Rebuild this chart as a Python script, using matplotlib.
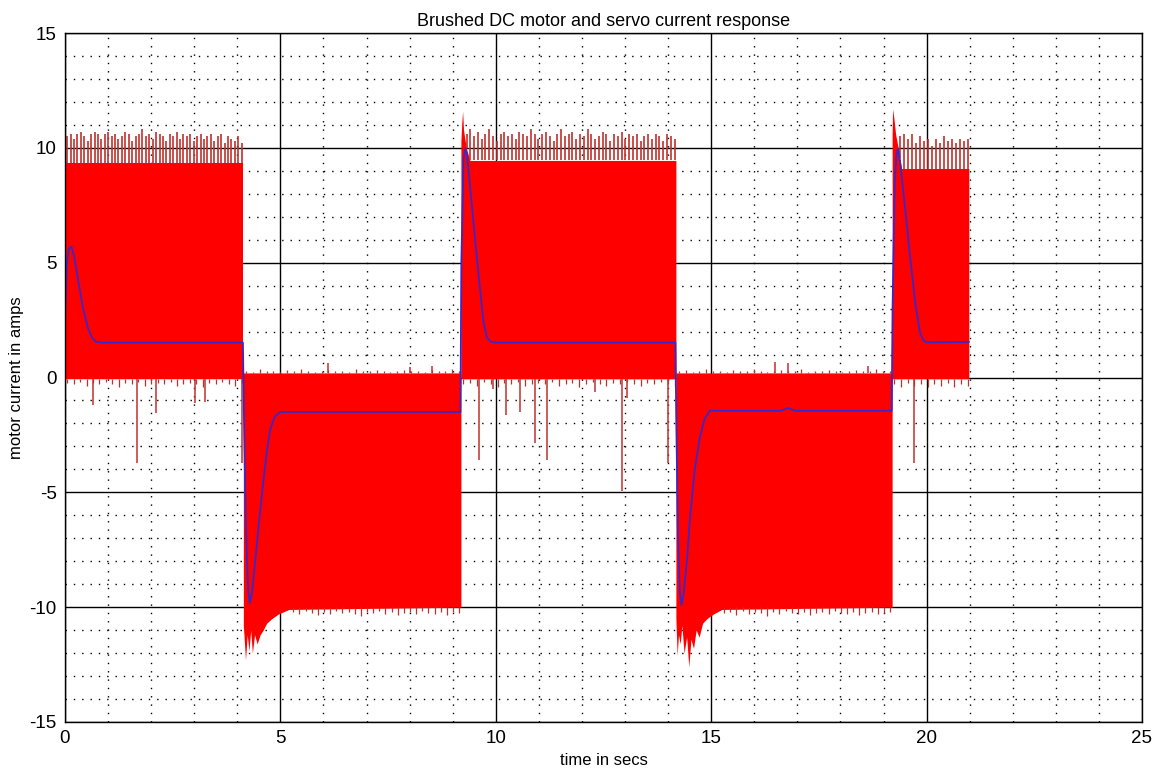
import numpy as np
import matplotlib.pyplot as plt
from matplotlib.ticker import MultipleLocator

plt.rcParams['font.family'] = ['Liberation Sans', 'DejaVu Sans']
plt.rcParams['axes.unicode_minus'] = False

# --- drive intervals: core band of the chopped motor current (amps) ---
seg1_t = [0.0, 4.13]
seg1_lo = [-0.05, -0.05]
seg1_hi = [9.35, 9.35]

seg2_t = [4.14, 4.19, 4.23, 4.27, 4.31, 4.35, 4.40, 4.46, 4.53, 4.60, 4.68, 4.80, 4.95, 5.20, 9.19]
seg2_lo = [-10.8, -12.3, -11.2, -11.9, -11.0, -12.0, -11.2, -11.6, -11.2, -11.0, -10.7, -10.5, -10.3, -10.1, -10.0]
seg2_hi = [0.2, 0.2, 0.2, 0.2, 0.2, 0.2, 0.2, 0.2, 0.2, 0.2, 0.2, 0.2, 0.2, 0.2, 0.2]

seg3_t = [9.19, 9.21, 9.23, 9.25, 9.28, 9.33, 9.40, 14.18]
seg3_lo = [-0.05, -0.05, -0.05, -0.05, -0.05, -0.05, -0.05, -0.05]
seg3_hi = [10.3, 11.1, 11.6, 10.8, 10.4, 9.9, 9.45, 9.45]

seg4_t = [14.18, 14.21, 14.24, 14.28, 14.32, 14.37, 14.43, 14.48, 14.53, 14.59,
          14.65, 14.72, 14.80, 14.90, 15.05, 15.25, 19.20]
seg4_lo = [-10.5, -12.1, -11.2, -11.6, -10.8, -12.0, -11.3, -12.6, -11.4, -11.8,
           -11.0, -11.3, -10.7, -10.5, -10.3, -10.1, -10.0]
seg4_hi = [0.2, 0.2, 0.2, 0.2, 0.2, 0.2, 0.2, 0.2, 0.2, 0.2, 0.2, 0.2, 0.2, 0.2, 0.2, 0.2, 0.2]

seg5_t = [19.20, 19.21, 19.24, 19.28, 19.34, 19.42, 20.98]
seg5_lo = [-0.05, -0.05, -0.05, -0.05, -0.05, -0.05, -0.05]
seg5_hi = [10.5, 11.7, 11.3, 10.6, 10.0, 9.1, 9.1]

# --- ripple peaks on the top edge of the positive intervals ---
ripple1 = [10.5, 10.6, 10.4, 10.6, 10.7, 10.5, 10.3, 10.6, 10.7, 10.6, 10.4, 10.6, 10.7,
           10.5, 10.6, 10.4, 10.5, 10.7, 10.6, 10.3, 10.5, 10.6, 10.8, 10.5, 10.6, 10.4,
           10.7, 10.6, 10.5, 10.3, 10.6, 10.5, 10.7, 10.4, 10.6, 10.5, 10.6, 10.3, 10.5,
           10.6, 10.4, 10.5, 10.6, 10.3, 10.5, 10.6, 10.2, 10.5, 10.4, 10.3, 10.5, 10.2]
ripple3 = [10.6, 10.8, 10.5, 10.7, 10.4, 10.6, 10.8, 10.5, 10.3, 10.6, 10.7, 10.5, 10.6,
           10.4, 10.7, 10.6, 10.5, 10.8, 10.6, 10.4, 10.6, 10.7, 10.5, 10.3, 10.6, 10.8,
           10.5, 10.6, 10.7, 10.4, 10.6, 10.5, 10.8, 10.6, 10.4, 10.5, 10.7, 10.6, 10.3,
           10.6, 10.5, 10.7, 10.4, 10.6, 10.5, 10.6, 10.3, 10.5, 10.6, 10.4, 10.6, 10.5,
           10.3, 10.6, 10.5, 10.4]
ripple5 = [10.5, 10.6, 10.4, 10.6, 10.2, 10.5, 10.3, 10.4, 10.1, 10.4, 10.2, 10.5, 10.3,
           10.4, 10.2, 10.4, 10.3, 10.4]

# small chatter on the near-zero edge of each interval
chatter1 = [-0.25, -0.3, -0.2, -0.35, -0.25, -0.3, -0.2, -0.3, -0.4, -0.25, -0.3, -0.2,
            -0.35, -0.3, -0.25, -0.3, -0.2, -0.35, -0.3, -0.25, -0.3, -0.4, -0.25, -0.3,
            -0.2, -0.3, -0.35, -0.25]
chatter3 = [-0.3, -0.25, -0.35, -0.2, -0.3, -0.4, -0.25, -0.3, -0.2, -0.35, -0.3, -0.25,
            -0.3, -0.2, -0.35, -0.3, -0.25, -0.4, -0.3, -0.2, -0.3, -0.35, -0.25, -0.3,
            -0.2, -0.3, -0.35, -0.25, -0.3, -0.2, -0.3, -0.35]
chatter5 = [-0.3, -0.4, -0.25, -0.35, -0.3, -0.4, -0.3, -0.35, -0.25, -0.4, -0.3, -0.35]
chatter2 = [0.3, 0.25, 0.35, 0.28, 0.3, 0.25, 0.32, 0.28, 0.35, 0.3, 0.26, 0.3, 0.33,
            0.28, 0.3, 0.25, 0.35, 0.3, 0.28, 0.32, 0.3, 0.26, 0.3, 0.34, 0.28, 0.3,
            0.25, 0.32, 0.3, 0.28, 0.35, 0.3]
chatter4 = [0.28, 0.32, 0.25, 0.3, 0.35, 0.28, 0.3, 0.26, 0.33, 0.3, 0.28, 0.35, 0.3,
            0.25, 0.3, 0.32, 0.28, 0.3, 0.35, 0.26, 0.3, 0.28, 0.33, 0.3, 0.25, 0.3,
            0.32, 0.28, 0.3, 0.35, 0.3, 0.28]
floor2 = [-10.2, -10.3, -10.15, -10.25, -10.35, -10.2, -10.3, -10.15, -10.25, -10.2,
          -10.3, -10.4, -10.2, -10.25, -10.15, -10.3, -10.2, -10.35, -10.25, -10.2,
          -10.3, -10.15, -10.25, -10.3, -10.2, -10.35, -10.2, -10.25]
floor4 = [-10.25, -10.2, -10.35, -10.15, -10.3, -10.2, -10.25, -10.4, -10.2, -10.3,
          -10.15, -10.25, -10.3, -10.2, -10.35, -10.25, -10.2, -10.3, -10.15, -10.25,
          -10.3, -10.2, -10.35, -10.25, -10.2, -10.3, -10.25, -10.2]

# isolated long excursions
drop_t = [0.66, 1.66, 2.11, 3.02, 3.25, 4.12, 9.62, 9.94, 10.24, 10.56, 10.91, 11.20,
          12.30, 12.92, 13.04, 13.99, 19.71]
drop_i = [-1.2, -3.73, -1.56, -1.12, -1.05, -3.73, -3.59, -0.5, -1.63, -1.49, -2.86,
          -3.59, -0.65, -4.96, -0.9, -3.73, -3.73]
rise_t = [6.11, 8.01, 8.51, 16.48, 16.79, 18.64]
rise_i = [0.62, 0.45, 0.5, 0.69, 0.62, 0.5]

# --- servo (averaged) current ---
servo_t = [0.0, 0.04, 0.09, 0.15, 0.21, 0.30, 0.42, 0.54, 0.64, 0.72, 0.85, 4.13,
           4.16, 4.20, 4.25, 4.29, 4.34, 4.42, 4.52, 4.60, 4.68, 4.76, 4.87, 5.00, 9.18,
           9.20, 9.25, 9.29, 9.33, 9.42, 9.52, 9.62, 9.71, 9.79, 9.88, 10.00, 14.17,
           14.19, 14.23, 14.27, 14.31, 14.36, 14.44, 14.51, 14.62, 14.74, 14.85, 14.97,
           16.60, 16.79, 16.95, 19.19,
           19.21, 19.26, 19.30, 19.34, 19.39, 19.50, 19.62, 19.74, 19.85, 19.93, 20.00, 20.98]
servo_i = [2.5, 4.9, 5.6, 5.7, 5.3, 4.3, 3.0, 2.1, 1.7, 1.56, 1.52, 1.52,
           -2.5, -6.5, -9.2, -9.82, -9.4, -7.9, -6.0, -4.6, -3.3, -2.28, -1.7, -1.5, -1.5,
           5.0, 9.5, 9.96, 9.7, 8.0, 6.0, 4.1, 2.5, 1.75, 1.56, 1.52, 1.52,
           -2.0, -7.0, -9.3, -9.9, -9.4, -7.9, -6.05, -4.0, -2.57, -1.8, -1.45,
           -1.45, -1.33, -1.45, -1.45,
           3.0, 8.5, 9.7, 9.96, 9.3, 7.4, 5.2, 3.2, 1.92, 1.6, 1.53, 1.55]

RED = '#ff0000'
SPIKE = '#c0302c'

fig = plt.figure(figsize=(11.56, 7.71), dpi=100)
ax = fig.add_axes([65 / 1156, 1 - 722 / 771, (1142 - 65) / 1156, (722 - 33) / 771])

segments = [(seg1_t, seg1_lo, seg1_hi), (seg2_t, seg2_lo, seg2_hi), (seg3_t, seg3_lo, seg3_hi),
            (seg4_t, seg4_lo, seg4_hi), (seg5_t, seg5_lo, seg5_hi)]
for t, lo, hi in segments:
    ax.fill_between(t, lo, hi, color=RED, linewidth=0, zorder=2)

# ripple spikes sit on the band top
for (t, lo, hi), peaks, t0, t1 in [(segments[0], ripple1, 0.05, 4.10),
                                   (segments[2], ripple3, 9.32, 14.15),
                                   (segments[4], ripple5, 19.38, 20.96)]:
    ts = np.linspace(t0, t1, len(peaks))
    ax.vlines(ts, np.interp(ts, t, hi), peaks, color=SPIKE, linewidth=1.2, zorder=2)

for vals, t0, t1, base in [(chatter1, 0.05, 4.10, -0.05), (chatter3, 9.25, 14.15, -0.05),
                           (chatter5, 19.25, 20.95, -0.05), (chatter2, 4.2, 9.15, 0.2),
                           (chatter4, 14.25, 19.15, 0.2), (floor2, 5.3, 9.15, -10.0),
                           (floor4, 15.3, 19.15, -10.0)]:
    ts = np.linspace(t0, t1, len(vals))
    ax.vlines(ts, base, vals, color=SPIKE, linewidth=0.9, zorder=2)

ax.vlines(drop_t, -0.05, drop_i, color=SPIKE, linewidth=1.1, zorder=2)
ax.vlines(rise_t, 0.2, rise_i, color=SPIKE, linewidth=1.1, zorder=2)

ax.plot(servo_t, servo_i, color='#3b27c8', linewidth=1.3, zorder=3)

ax.set_xlim(0, 25)
ax.set_ylim(-15, 15)
ax.xaxis.set_major_locator(MultipleLocator(5))
ax.yaxis.set_major_locator(MultipleLocator(5))
ax.xaxis.set_minor_locator(MultipleLocator(1))
ax.yaxis.set_minor_locator(MultipleLocator(1))
ax.set_axisbelow(True)
ax.grid(which='major', color='black', linewidth=1.0, linestyle='-')
ax.grid(which='minor', color='black', linewidth=1.0, linestyle=(0, (1, 5)))
ax.tick_params(which='both', direction='in', labelsize=13.5, length=0, pad=6)
for s in ax.spines.values():
    s.set_linewidth(1.0)
    s.set_zorder(4)

ax.set_title('Brushed DC motor and servo current response', fontsize=13, pad=5)
ax.set_xlabel('time in secs', fontsize=12, labelpad=4)
ax.set_ylabel('motor current in amps', fontsize=12, labelpad=4)

fig.savefig('out.png', dpi=100, facecolor='white')
